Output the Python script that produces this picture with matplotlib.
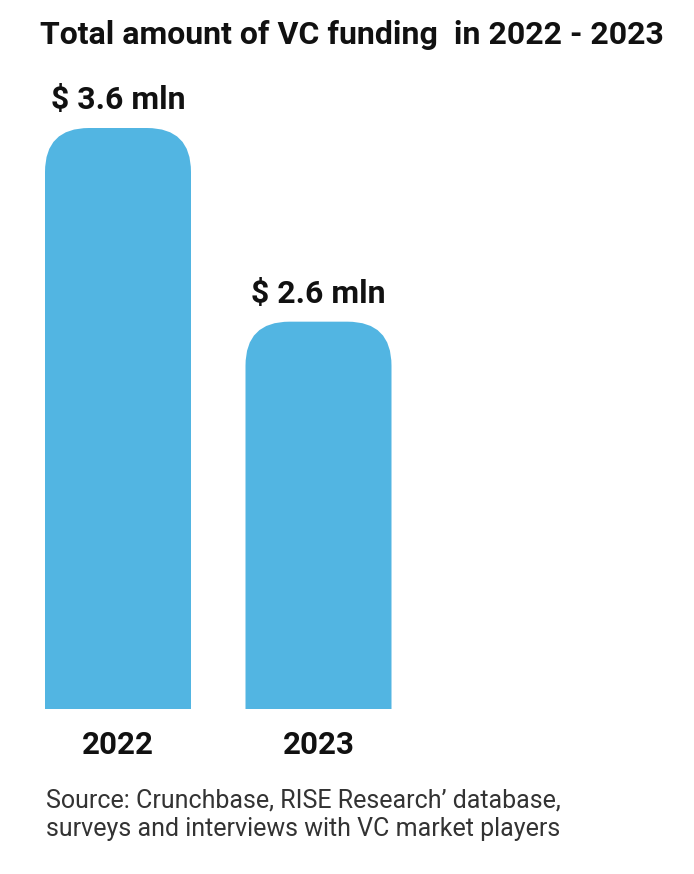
import matplotlib
matplotlib.use("Agg")
import matplotlib.pyplot as plt
from matplotlib.patches import FancyBboxPatch

# chart data
years = ["2022", "2023"]
funding = [3.6, 2.6]          # $ mln
value_labels = ["$ 3.6 mln", "$ 2.6 mln"]
title = "Total amount of VC funding  in 2022 - 2023"
source = ("Source: Crunchbase, RISE Research\u2019 database,\n"
          "surveys and interviews with VC market players")

BAR_COLOR = "#52b5e2"
W, H = 694, 874

plt.rcParams['font.family'] = ['Roboto', 'DejaVu Sans']

fig = plt.figure(figsize=(W / 100, H / 100), dpi=100)
fig.patch.set_facecolor("white")


def fx(px):
    return px / W


def fy(py):
    return 1 - py / H


# axes covers the bar area: baseline at y=709 px, 3.6 at y=128 px
ax_bottom, ax_top = 709, 128
ax = fig.add_axes([0, fy(ax_bottom), 1, (ax_bottom - ax_top) / H])
ymin, ymax = 0.6, 3.6
ax.set_ylim(ymin, ymax)
x_pos = list(range(len(years)))
px_per_x = 200.5
ax.set_xlim(-118 / px_per_x, (W - 118) / px_per_x)
ax.axis("off")

bar_w = 146 / px_per_x
px_per_y = (ax_bottom - ax_top) / (ymax - ymin)
aspect = px_per_x / px_per_y
radius = 44 / px_per_x

# plain bars give the geometry, rounded-top patches are drawn in their place
bars = ax.bar(x_pos, funding, width=bar_w, color="none")
for b in bars:
    rect = FancyBboxPatch((b.get_x(), b.get_y()), b.get_width(), b.get_height(),
                          boxstyle=f"round,pad=0,rounding_size={radius}",
                          mutation_aspect=aspect, facecolor=BAR_COLOR,
                          edgecolor="none", clip_on=True)
    ax.add_patch(rect)
    b.remove()

for x, v, lab in zip(x_pos, funding, value_labels):
    ax.annotate(lab, (x, v), xytext=(0, 9), textcoords="offset points",
                ha="center", va="bottom", fontsize=23, fontweight="bold",
                color="#111111")

for x, yr in zip(x_pos, years):
    ax.annotate(yr, (x, ymin), xytext=(0, -15), textcoords="offset points",
                ha="center", va="top", fontsize=22.5, fontweight="bold",
                color="#111111")

fig.text(fx(40), fy(35), title, ha="left", va="center", fontsize=23,
         fontweight="bold", color="#111111")
fig.text(fx(46), fy(815), source, ha="left", va="center", fontsize=18,
         color="#333333", linespacing=1.25)

fig.savefig("out.png", dpi=100, facecolor="white")
